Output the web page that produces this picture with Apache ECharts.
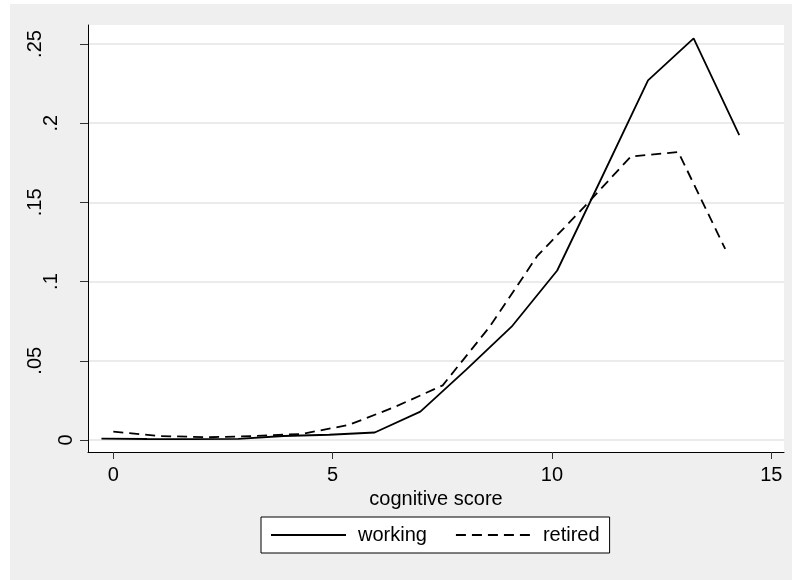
<!DOCTYPE html>
<html>
<head>
<meta charset="utf-8">
<script src="https://cdn.jsdelivr.net/npm/echarts@6/dist/echarts.min.js"></script>
<style>
  html, body { margin: 0; padding: 0; background: #ffffff; }
  #chart { width: 792px; height: 580px; }
</style>
</head>
<body>
<div id="chart"></div>
<script>
// ---- data ----
const seriesNames = ['working', 'retired'];

const workingX = [-0.27, 0.77, 1.81, 2.85, 3.88, 4.92, 5.96, 7.00, 8.04, 9.08, 10.12, 11.15, 12.19, 13.23, 14.27];
const workingY = [0.0008, 0.0006, 0.0005, 0.0007, 0.0025, 0.0033, 0.0047, 0.0179, 0.0442, 0.0715, 0.1070, 0.1665, 0.2270, 0.2535, 0.1925];

const retiredX = [0.00, 1.07, 2.15, 3.22, 4.29, 5.37, 6.44, 7.51, 8.58, 9.66, 10.73, 11.80, 12.88, 13.95];
const retiredY = [0.0052, 0.0025, 0.0017, 0.0025, 0.0038, 0.0095, 0.0211, 0.0345, 0.0715, 0.1160, 0.1470, 0.1790, 0.1818, 0.1206];

const xTickValues = [0, 5, 10, 15];
const xTickLabels = ['0', '5', '10', '15'];
const yTickValues = [0, 0.05, 0.1, 0.15, 0.2, 0.25];
const yTickLabels = ['0', '.05', '.1', '.15', '.2', '.25'];

const xTitle = 'cognitive score';

// ---- chart ----
const FONT = '"Liberation Sans", Arial, Helvetica, sans-serif';
const FS = 20;
const chart = echarts.init(document.getElementById('chart'), null, { renderer: 'canvas' });

function pairs(xs, ys) { return xs.map((x, i) => [x, ys[i]]); }

const option = {
  backgroundColor: '#ffffff',
  animation: false,
  graphic: [{
    type: 'rect', z: -10, silent: true,
    shape: { x: 10, y: 4, width: 782, height: 576 },
    style: { fill: '#efefef' }
  }],
  grid: {
    left: 88, right: 8, top: 25, bottom: 128,
    show: true, backgroundColor: '#ffffff', borderWidth: 0
  },
  xAxis: {
    type: 'value', min: -0.577, max: 15.29,
    name: xTitle, nameLocation: 'middle', nameGap: 32,
    nameTextStyle: { fontFamily: FONT, fontSize: FS, color: '#000' },
    axisLine: { show: true, onZero: false, lineStyle: { color: '#000', width: 1 } },
    axisTick: { show: true, customValues: xTickValues, length: 7, lineStyle: { color: '#333', width: 1 } },
    axisLabel: {
      customValues: xTickValues, margin: 13,
      fontFamily: FONT, fontSize: FS, color: '#000',
      formatter: v => xTickLabels[xTickValues.findIndex(t => Math.abs(t - v) < 1e-9)]
    },
    splitLine: { show: false }
  },
  yAxis: {
    type: 'value', min: -0.0076, max: 0.262,
    axisLine: { show: true, onZero: false, lineStyle: { color: '#000', width: 1 } },
    axisTick: { show: true, customValues: yTickValues, length: 8, lineStyle: { color: '#333', width: 1 } },
    axisLabel: {
      customValues: yTickValues, rotate: 90, margin: 12,
      fontFamily: FONT, fontSize: FS, color: '#000',
      formatter: v => {
        const s = yTickLabels[yTickValues.findIndex(t => Math.abs(t - v) < 1e-9)];
        return '{c' + s.length + '|' + s + '}';
      },
      rich: {
        c1: { fontFamily: FONT, fontSize: FS, padding: [0, 0, 0, 0] },
        c2: { fontFamily: FONT, fontSize: FS, padding: [0, 0, 15, 0] },
        c3: { fontFamily: FONT, fontSize: FS, padding: [0, 0, 31, 0] }
      }
    },
    splitLine: { show: true, lineStyle: { color: '#e4e4e4', width: 1.5 } }
  },
  legend: {
    left: 261, top: 517,
    orient: 'horizontal',
    selectedMode: false,
    backgroundColor: '#ffffff',
    borderColor: '#000', borderWidth: 1, borderRadius: 0,
    padding: [8, 10, 8, 9],
    itemWidth: 75, itemHeight: 14, itemGap: 28,
    itemStyle: { opacity: 0 },
    textStyle: { fontFamily: FONT, fontSize: FS, color: '#000', padding: [0, 0, 0, 7] },
    data: seriesNames
  },
  series: [
    {
      name: seriesNames[0], type: 'line', data: pairs(workingX, workingY),
      symbol: 'none', showSymbol: false,
      lineStyle: { color: '#000', width: 1.8, type: 'solid' },
      itemStyle: { color: '#000' }
    },
    {
      name: seriesNames[1], type: 'line', data: pairs(retiredX, retiredY),
      symbol: 'none', showSymbol: false,
      lineStyle: { color: '#000', width: 1.8, type: [10, 6] },
      itemStyle: { color: '#000' }
    }
  ]
};
chart.setOption(option);
</script>
</body>
</html>
